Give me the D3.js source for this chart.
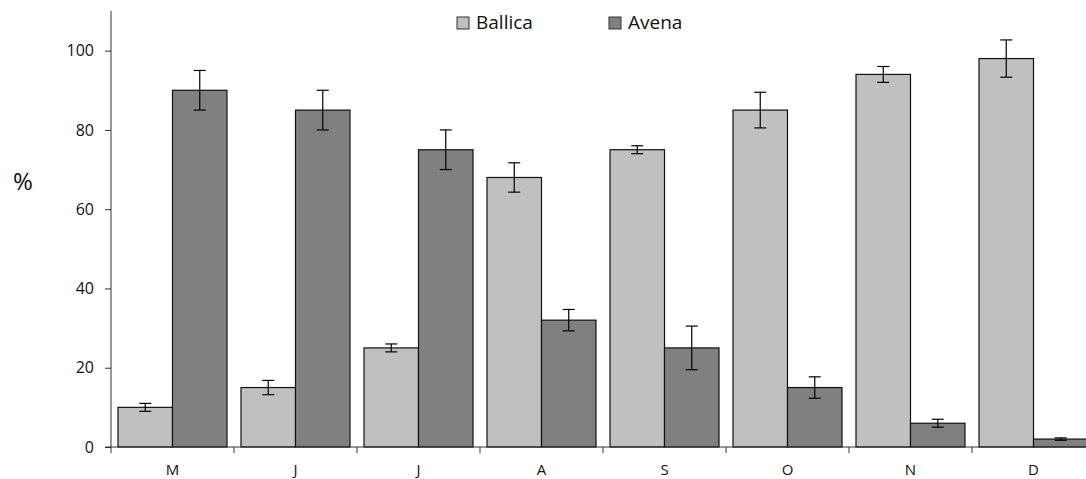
<!DOCTYPE html>
<html>
<head>
<meta charset="utf-8">
<script src="https://cdn.jsdelivr.net/npm/d3@7"></script>
<style>
  body { margin: 0; background: #fff; }
  svg { display: block; font-family: "Open Sans", "Noto Sans", sans-serif; }
</style>
</head>
<body>
<div id="chart"></div>
<script>
var months = ["M", "J", "J", "A", "S", "O", "N", "D"];
var series = ["Ballica", "Avena"];
var ballica = [10, 15, 25, 68, 75, 85, 94, 98];
var ballicaErr = [1, 1.8, 1, 3.7, 1, 4.5, 2, 4.7];
var avena = [90, 85, 75, 32, 25, 15, 6, 2];
var avenaErr = [5, 5, 5, 2.7, 5.5, 2.7, 1, 0.3];
var yTicks = [0, 20, 40, 60, 80, 100];
var colors = ["#c0c0c0", "#808080"];

var width = 1086, height = 479;
var left = 111, zeroY = 447, topY = 11, step = 123;

var svg = d3.select("#chart").append("svg")
    .attr("width", width)
    .attr("height", height);

var y = d3.scaleLinear().domain([0, 110]).range([zeroY, topY]);
var x0 = d3.scaleBand().domain(d3.range(months.length))
    .range([left, left + step * months.length]).padding(0);
var x1 = d3.scaleBand().domain(series).range([7, step - 7]).padding(0);

var values = [ballica, avena];
var errs = [ballicaErr, avenaErr];

// bars
for (var s = 0; s < series.length; s++) {
    var g = svg.append("g");
    g.selectAll("rect")
        .data(values[s])
        .enter().append("rect")
        .attr("x", function(d, i) { return x0(i) + x1(series[s]); })
        .attr("y", function(d) { return y(d); })
        .attr("width", x1.bandwidth())
        .attr("height", function(d) { return zeroY - y(d); })
        .attr("fill", colors[s])
        .attr("stroke", "#111")
        .attr("stroke-width", 1.2);
}

// error bars
for (var s = 0; s < series.length; s++) {
    var eg = svg.append("g").attr("stroke", "#000").attr("stroke-width", 1.2);
    values[s].forEach(function(v, i) {
        var cx = x0(i) + x1(series[s]) + x1.bandwidth() / 2;
        var e = errs[s][i];
        eg.append("line").attr("x1", cx).attr("x2", cx)
            .attr("y1", y(v + e)).attr("y2", y(v - e));
        eg.append("line").attr("x1", cx - 6).attr("x2", cx + 6)
            .attr("y1", y(v + e)).attr("y2", y(v + e));
        eg.append("line").attr("x1", cx - 6).attr("x2", cx + 6)
            .attr("y1", y(v - e)).attr("y2", y(v - e));
    });
}

// y axis
var yAxis = d3.axisLeft(y).tickValues(yTicks).tickSize(6).tickPadding(11);
var yg = svg.append("g").attr("transform", "translate(" + left + ",0)").call(yAxis);
yg.select(".domain").attr("d", "M0," + zeroY + "V" + topY).attr("stroke", "#333");
yg.selectAll(".tick line").attr("stroke", "#333");
yg.selectAll("text").attr("font-size", 16).attr("fill", "#111")
    .attr("font-family", "'Open Sans', sans-serif");

// x axis
var xg = svg.append("g").attr("transform", "translate(0," + zeroY + ")");
xg.append("line").attr("x1", left - 6).attr("x2", width)
    .attr("stroke", "#333").attr("stroke-width", 1);
xg.selectAll(".xt")
    .data(d3.range(months.length + 1))
    .enter().append("line")
    .attr("x1", function(d) { return left + d * step; })
    .attr("x2", function(d) { return left + d * step; })
    .attr("y1", 0).attr("y2", 6)
    .attr("stroke", "#333");
xg.selectAll(".xl")
    .data(months)
    .enter().append("text")
    .attr("x", function(d, i) { return x0(i) + step / 2; })
    .attr("y", 28)
    .attr("text-anchor", "middle")
    .attr("font-size", 15)
    .attr("fill", "#111")
    .text(function(d) { return d; });

// y label
svg.append("text")
    .attr("x", 23).attr("y", 190)
    .attr("text-anchor", "middle")
    .attr("font-size", 24)
    .attr("fill", "#111")
    .text("%");

// legend
var legX = [457, 609];
series.forEach(function(name, i) {
    svg.append("rect")
        .attr("x", legX[i]).attr("y", 17)
        .attr("width", 12).attr("height", 12)
        .attr("fill", colors[i])
        .attr("stroke", "#333");
    svg.append("text")
        .attr("x", legX[i] + 19).attr("y", 29)
        .attr("font-size", 19)
        .attr("fill", "#111")
        .text(name);
});
</script>
</body>
</html>
